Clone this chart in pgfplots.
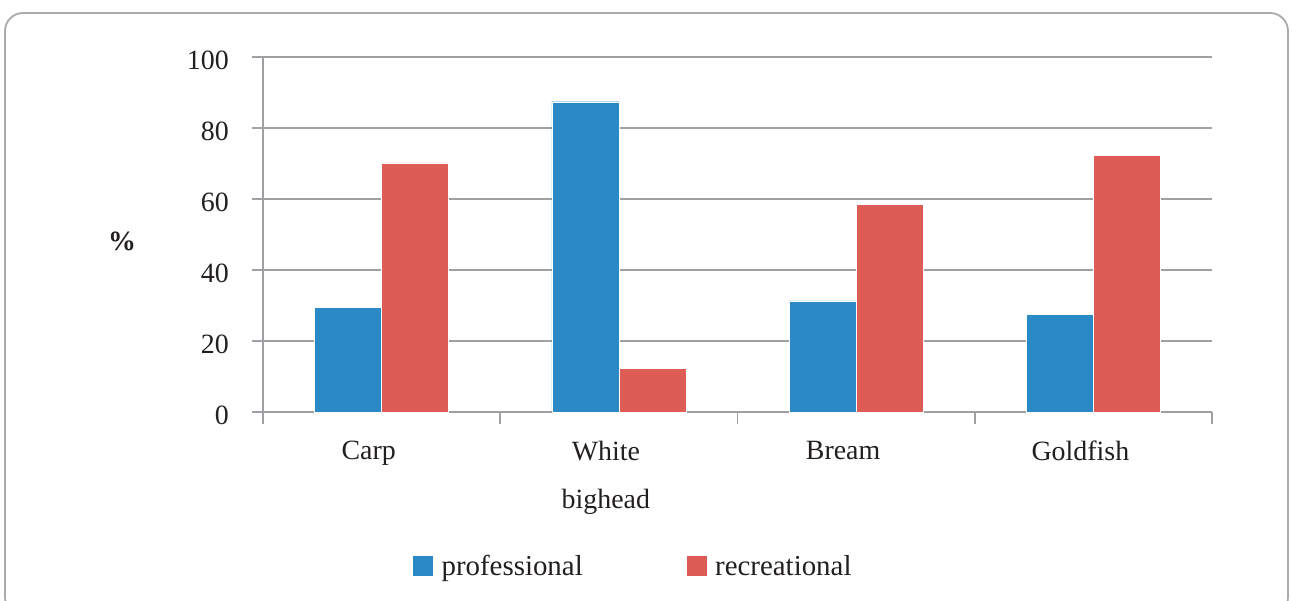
\documentclass[border=0pt]{standalone}
\usepackage{pgfplots}
\pgfplotsset{compat=1.18}
\usepackage{fontspec}
\setmainfont{Liberation Serif}
\definecolor{pblue}{RGB}{43,137,198}
\definecolor{rred}{RGB}{221,92,86}
\definecolor{gridgray}{RGB}{160,160,164}
\definecolor{framegray}{RGB}{170,170,170}
\definecolor{txt}{RGB}{35,31,32}
\begin{document}
\begin{tikzpicture}
\useasboundingbox (-263bp,-189bp) rectangle (1029bp,412bp);
\draw[rounded corners=18bp, framegray, line width=1.8bp] (-258bp,-203bp) rectangle (1025bp,399bp);
\begin{axis}[
  at={(0bp,0bp)}, anchor=south west,
  scale only axis, width=949bp, height=355bp,
  ybar=0pt, bar width=67bp,
  xmin=-0.5, xmax=3.5, ymin=0, ymax=100,
  xtick={0,1,2,3},
  xticklabels={Carp,{White\\bighead},Bream,Goldfish},
  minor xtick={-0.5,0.5,1.5,2.5,3.5},
  ytick={0,20,40,60,80,100},
  major x tick style={draw=none},
  tick align=outside,
  major tick length=11bp, minor tick length=12bp,
  every tick/.style={gridgray, line width=1.5bp},
  axis x line*=bottom, axis y line*=left,
  axis line style={gridgray, line width=1.5bp, -},
  ymajorgrids, grid style={gridgray, line width=1.5bp},
  /pgf/number format/assume math mode=true,
  tick label style={font=\fontsize{28}{48}\selectfont, text=txt},
  yticklabel style={anchor=east, inner sep=0pt, xshift=-23bp, yshift=-3bp},
  xticklabel style={align=center, anchor=north, inner sep=0pt, xshift=-13bp, yshift=-18bp},
  ylabel={\textbf{\%}},
  ylabel style={rotate=-90, font=\fontsize{28}{30}\selectfont, text=txt, at={(axis description cs:-0.1486,0.48)}, anchor=center},
  legend style={at={(axis description cs:0.157,-0.434)}, anchor=west, draw=none, fill=none, inner sep=0pt,
    font=\fontsize{29}{30}\selectfont, text=txt,
    /tikz/every odd column/.append style={column sep=6bp},
    /tikz/every even column/.append style={column sep=101bp}},
  legend columns=2,
  legend image code/.code={\fill[#1] (0bp,-10.5bp) rectangle (21bp,10.5bp);},
  clip=false,
]
\addplot[fill=pblue, draw=white, line width=0.4bp] coordinates {(0,29.4) (1,87.4) (2,31.3) (3,27.5)};
\addplot[fill=rred, draw=white, line width=0.4bp] coordinates {(0,70.2) (1,12.2) (2,58.4) (3,72.2)};
\legend{professional,recreational}
\end{axis}
\end{tikzpicture}
\end{document}
